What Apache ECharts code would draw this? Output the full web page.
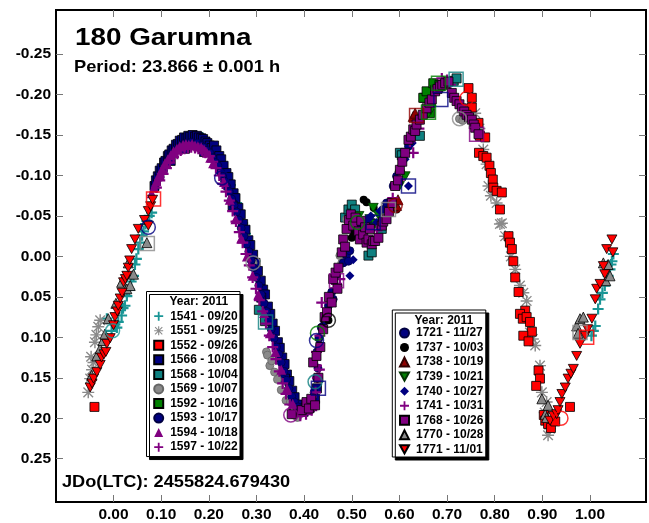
<!DOCTYPE html>
<html><head><meta charset="utf-8">
<script src="https://cdn.jsdelivr.net/npm/echarts@6/dist/echarts.min.js"></script>
<style>html,body{margin:0;padding:0;background:#fff}#c{width:649px;height:523px}</style>
</head><body><div id="c"></div>
<script>
// ---------- tick labels ----------
const xTicks = [0.0, 0.1, 0.2, 0.3, 0.4, 0.5, 0.6, 0.7, 0.8, 0.9, 1.0];
const yTicks = [-0.25, -0.20, -0.15, -0.10, -0.05, 0.00, 0.05, 0.10, 0.15, 0.20, 0.25];

// ---------- session data: [phase, magnitude] ----------
const s1541 = [[-0.014,0.077],[-0.004,0.092],[0.003,0.084],[0.007,0.088],[0.010,0.081],[0.017,0.073],[0.020,0.064],[0.024,0.061],[0.028,0.049],[0.033,0.041],[0.037,0.031],[0.042,0.024],[0.045,0.010],[0.048,0.003],[0.052,-0.009],[0.056,-0.017],[0.060,-0.026],[0.063,-0.031],[0.067,-0.040],[0.070,-0.044],[0.075,-0.050],[0.080,-0.054],
  [0.186,-0.147],[0.193,-0.143],[0.199,-0.139],[0.205,-0.134],[0.212,-0.128],[0.219,-0.121],[0.226,-0.113],[0.232,-0.105],[0.238,-0.096],[0.245,-0.088],[0.251,-0.077],[0.258,-0.066],[0.264,-0.053],[0.271,-0.041],[0.277,-0.028],[0.284,-0.017],[0.291,-0.006],[0.297,0.006],
  [1.049,-0.003],[1.046,0.006],[1.044,0.010],[1.042,0.016],[1.038,0.024],[1.031,0.036],[1.026,0.045],[1.021,0.053],[1.017,0.065],[1.011,0.086],[1.007,0.092],[1.003,0.098]];
const s1551 = [[-0.028,0.079],[-0.032,0.087],[-0.036,0.097],[-0.039,0.106],[-0.047,0.124],[-0.042,0.131],[-0.045,0.140],[-0.049,0.151],[-0.053,0.168],
  [0.759,-0.177],[0.768,-0.158],[0.776,-0.132],[0.783,-0.114],[0.787,-0.087],[0.792,-0.075],[0.804,-0.066],[0.811,-0.040],[0.815,-0.041],[0.822,-0.025],[0.834,0.000],[0.843,0.016],[0.853,0.036],[0.860,0.045],[0.867,0.055],[0.874,0.094],[0.880,0.102],[0.885,0.110],[0.895,0.135],[0.899,0.168],[0.905,0.193],[0.909,0.180],[0.916,0.213],[0.912,0.221]];
const s1552 = [[-0.040,0.186],
  [0.745,-0.208],[0.752,-0.196],[0.752,-0.184],[0.766,-0.165],[0.769,-0.149],[0.780,-0.147],[0.767,-0.128],[0.776,-0.124],[0.783,-0.122],[0.789,-0.112],[0.792,-0.103],[0.796,-0.095],[0.797,-0.085],[0.804,-0.081],[0.815,-0.079],[0.811,-0.058],[0.829,-0.025],[0.832,-0.017],[0.836,-0.009],[0.839,0.006],[0.843,0.026],[0.850,0.044],[0.864,0.067],[0.853,0.071],[0.859,0.077],[0.867,0.075],[0.874,0.081],[0.878,0.093],[0.860,0.098],[0.871,0.105],[0.892,0.141],[0.895,0.151],[0.887,0.160],[0.903,0.196],[0.906,0.203],[0.912,0.207],[0.918,0.212],[0.927,0.204],[0.958,0.186]];
const s1566 = [[0.086,-0.087],[0.089,-0.094],[0.093,-0.099],[0.097,-0.106],[0.101,-0.109],[0.106,-0.116],[0.109,-0.118],[0.114,-0.124],[0.117,-0.126],[0.122,-0.131],[0.126,-0.133],[0.131,-0.138],[0.135,-0.139],[0.139,-0.143],[0.144,-0.144],[0.148,-0.147],[0.153,-0.146],[0.157,-0.149],[0.161,-0.148],[0.166,-0.150],[0.171,-0.148],[0.175,-0.149],[0.179,-0.147],[0.184,-0.146],[0.188,-0.145],[0.193,-0.142],[0.197,-0.140],[0.202,-0.137],[0.206,-0.134],
  [0.211,-0.137],[0.216,-0.131],[0.222,-0.124],[0.226,-0.120],[0.231,-0.112],[0.237,-0.103],[0.241,-0.098],[0.246,-0.089],[0.252,-0.078],[0.256,-0.072],[0.262,-0.060],[0.267,-0.052],[0.272,-0.040],[0.277,-0.033],[0.283,-0.020],[0.287,-0.014],[0.293,-0.002],[0.298,0.008],[0.303,0.018],[0.309,0.030],[0.314,0.041],[0.318,0.047],[0.324,0.062],[0.329,0.071],[0.334,0.083],[0.339,0.092],[0.345,0.106],[0.349,0.113],[0.354,0.125],[0.359,0.133],[0.364,0.146],[0.369,0.154],[0.375,0.166],[0.380,0.174],[0.386,0.183],[0.393,0.188],[0.399,0.192],[0.406,0.189],[0.412,0.187],[0.418,0.183],[0.423,0.176],[0.427,0.163],
  [0.120,-0.118],[0.150,-0.133],[0.190,-0.129],[0.250,-0.063],[0.310,0.051],[0.360,0.151]];
const s1568 = [[0.318,0.080],[0.305,0.066],[0.486,-0.048],[0.493,-0.058],[0.500,-0.064],[0.507,-0.058],[0.535,-0.001],[0.542,-0.005],[0.563,-0.034],[0.601,-0.128],[0.605,-0.125],[0.643,-0.149],[0.652,-0.196],[0.714,-0.217],[0.720,-0.220]];
const s1569 = [[0.293,0.008],[0.321,0.118],[0.323,0.122],[0.328,0.135],[0.332,0.129],[0.338,0.143],[0.344,0.152],[0.352,0.165],[0.362,0.178],[0.371,0.180],[0.378,0.196],[0.386,0.199],[0.475,-0.001],[0.479,0.008],[0.489,-0.046],[0.493,-0.034],[0.508,-0.030],[0.726,-0.170],[0.733,-0.168]];
const s1592 = [[0.650,-0.196],[0.657,-0.204],[0.664,-0.177],[0.666,-0.190],[0.671,-0.214],[0.675,-0.206],[0.684,-0.212]];
const s1593 = [[0.098,-0.098],[0.105,-0.106],[0.112,-0.114],[0.118,-0.121],[0.124,-0.126],[0.131,-0.131],[0.137,-0.134],[0.144,-0.137],[0.150,-0.139],[0.157,-0.140],[0.163,-0.141],[0.170,-0.139],[0.176,-0.140],[0.183,-0.137],[0.189,-0.135],[0.196,-0.131],[0.202,-0.128],[0.208,-0.122],[0.214,-0.116],[0.219,-0.112],[0.225,-0.104],
  [0.229,-0.099],[0.233,-0.093],[0.238,-0.086],[0.243,-0.080],[0.248,-0.071],[0.253,-0.063],[0.258,-0.055],[0.263,-0.045],[0.268,-0.035],[0.274,-0.025],[0.279,-0.015],[0.284,-0.006],[0.289,0.005],[0.294,0.014],[0.300,0.026],[0.305,0.036],[0.310,0.047],[0.316,0.058],[0.321,0.068],[0.326,0.079],[0.331,0.090],[0.337,0.101],[0.342,0.112],[0.347,0.121],[0.352,0.131],[0.358,0.142],[0.363,0.153],[0.368,0.163],[0.374,0.173],[0.380,0.180],[0.387,0.186],[0.395,0.188],[0.402,0.186],[0.409,0.184],[0.415,0.176],[0.421,0.168],[0.426,0.150],[0.429,0.138],[0.427,0.118],[0.431,0.101],[0.436,0.088]];
const s1594 = [[0.080,-0.078],[0.085,-0.085],[0.090,-0.093],[0.096,-0.101],[0.102,-0.108],[0.108,-0.115],[0.114,-0.120],[0.120,-0.125],[0.126,-0.130],[0.133,-0.133],[0.139,-0.136],[0.146,-0.138],[0.152,-0.139],[0.158,-0.138],[0.165,-0.139],[0.171,-0.137],[0.177,-0.136],[0.184,-0.135],[0.190,-0.132],[0.196,-0.128],[0.203,-0.122],[0.209,-0.115],
  [0.232,-0.092],[0.244,-0.070],[0.256,-0.046],[0.268,-0.022],[0.280,0.000],[0.292,0.024],[0.304,0.047],[0.316,0.070],[0.328,0.095],[0.340,0.118],[0.352,0.140],[0.364,0.163],[0.376,0.182],[0.388,0.193]];
const s1597 = [[0.090,-0.085],[0.097,-0.094],[0.104,-0.102],[0.111,-0.109],[0.118,-0.116],[0.126,-0.123],[0.134,-0.127],[0.141,-0.131],[0.149,-0.133],[0.156,-0.134],[0.163,-0.135],[0.171,-0.134],[0.178,-0.133],[0.186,-0.131],[0.193,-0.128],[0.201,-0.124],[0.208,-0.117],[0.215,-0.109],[0.222,-0.100],[0.229,-0.090],[0.236,-0.080],[0.243,-0.069],[0.250,-0.056],[0.257,-0.043],[0.264,-0.030],[0.271,-0.017],[0.278,-0.003],[0.285,0.011],[0.292,0.026],[0.299,0.040],[0.306,0.054],[0.313,0.068],[0.320,0.083],[0.327,0.098],[0.334,0.112],[0.341,0.127],[0.348,0.142],[0.355,0.157],[0.362,0.170],[0.370,0.183],[0.380,0.192],[0.392,0.197],[0.404,0.195],[0.416,0.190],[0.424,0.168],[0.428,0.150],[0.432,0.140]];
const s1721 = [[0.433,0.110],[0.440,0.086],[0.451,0.061],[0.458,0.044],[0.461,0.053],[0.468,0.024],[0.482,0.008],[0.489,-0.001],[0.493,0.006],[0.496,-0.007],[0.507,-0.034],[0.517,-0.038],[0.531,-0.044],[0.545,-0.042],[0.566,-0.058],[0.573,-0.066],[0.587,-0.087],[0.594,-0.099],[0.608,-0.120],[0.619,-0.136]];
const s1737 = [[0.451,0.079],[0.500,-0.023],[0.505,-0.028],[0.525,-0.070],[0.531,-0.067],[0.546,-0.060],[0.594,-0.058]];
const s1738 = [[0.594,-0.063],[0.597,-0.070],[0.601,-0.111],[0.629,-0.173],[0.633,-0.177],[0.640,-0.170]];
const s1739 = [[0.515,-0.050],[0.538,-0.046],[0.545,-0.060],[0.549,-0.040],[0.556,-0.051],[0.600,-0.087],[0.612,-0.099],[0.661,-0.177],[0.666,-0.181],[0.689,-0.208]];
const s1740 = [[0.496,0.024],[0.503,0.004],[0.535,-0.046],[0.540,-0.050],[0.552,-0.042],[0.559,-0.056],[0.612,-0.120],[0.619,-0.087],[0.627,-0.140]];
const s1741 = [[0.426,0.135],[0.426,0.118],[0.433,0.098],[0.437,0.057],[0.468,0.034],[0.475,0.028],[0.553,-0.032],[0.586,-0.072],[0.600,-0.095],[0.622,-0.142],[0.629,-0.128],[0.641,-0.158],[0.660,-0.185],[0.689,-0.220],[0.692,-0.216],[0.700,-0.218],[0.707,-0.212]];
const s1768 = [[0.374,0.195],[0.395,0.190],[0.405,0.180],[0.410,0.188],[0.415,0.176],[0.423,0.184],[0.419,0.131],[0.426,0.123],[0.430,0.150],[0.434,0.112],[0.440,0.090],[0.443,0.075],[0.448,0.069],[0.452,0.050],[0.458,0.057],[0.461,0.028],[0.466,0.020],[0.470,0.040],[0.472,0.014],[0.479,-0.005],[0.482,-0.021],[0.486,-0.012],[0.489,-0.034],[0.494,-0.045],[0.498,-0.052],[0.503,-0.038],[0.508,-0.048],[0.514,-0.031],[0.517,-0.021],[0.520,-0.044],[0.524,-0.027],[0.528,-0.036],[0.531,-0.017],[0.535,-0.021],[0.538,-0.034],[0.542,-0.015],[0.545,-0.019],[0.549,-0.019],[0.556,-0.023],[0.563,-0.038],[0.566,-0.043],[0.573,-0.046],[0.578,-0.055],[0.584,-0.066],[0.591,-0.087],[0.597,-0.094],[0.601,-0.107],[0.606,-0.117],[0.612,-0.128],[0.619,-0.144],[0.624,-0.148],[0.629,-0.157],[0.633,-0.155],[0.636,-0.163],[0.643,-0.169],[0.649,-0.175],[0.657,-0.183],[0.663,-0.190],[0.668,-0.194],[0.675,-0.204],[0.680,-0.207],[0.685,-0.210],[0.690,-0.212],[0.696,-0.214],[0.703,-0.216],[0.710,-0.202],[0.715,-0.196],[0.720,-0.192],[0.726,-0.188],[0.731,-0.183],[0.736,-0.179],[0.741,-0.175],[0.746,-0.172],[0.752,-0.169],[0.756,-0.163],[0.759,-0.159],[0.766,-0.151]];
const s1770 = [[-0.046,0.147],[-0.035,0.123],[-0.028,0.114],[-0.022,0.104],[-0.018,0.096],[-0.011,0.077],[0.005,0.058],[0.017,0.032],[0.028,0.040],[0.031,0.008],[0.035,0.036],[0.042,0.022],[0.070,-0.017],
  [0.899,0.176],[0.906,0.195],[0.909,0.199],[0.912,0.184],[0.972,0.086],[0.975,0.095],[0.979,0.077],[0.986,0.075],[1.028,0.008],[1.033,0.030],[1.038,0.010],[1.042,0.024]];
const s1771 = [[-0.049,0.162],[-0.045,0.157],[-0.042,0.151],[-0.035,0.143],[-0.028,0.134],[-0.025,0.125],[-0.020,0.121],[-0.016,0.118],[-0.014,0.108],[-0.007,0.101],[0.000,0.085],[0.003,0.075],[0.008,0.068],[0.010,0.061],[0.014,0.052],[0.018,0.045],[0.021,0.032],[0.025,0.028],[0.028,0.024],[0.031,0.014],[0.034,0.005],[0.038,-0.009],[0.045,-0.021],[0.052,-0.034],[0.065,-0.045],[0.073,-0.038],[0.073,-0.056],[0.078,-0.062],[0.082,-0.070],
  [0.916,0.203],[0.923,0.197],[0.930,0.195],[0.933,0.190],[0.937,0.180],[0.941,0.170],[0.948,0.162],[0.954,0.151],[0.960,0.145],[0.965,0.139],[0.972,0.123],[0.979,0.108],[0.990,0.098],[0.995,0.090],[1.004,0.077],[1.011,0.053],[1.014,0.040],[1.021,0.034],[1.028,0.012],[1.031,0.022],[1.035,-0.009],[1.048,-0.005],[1.046,-0.021]];

// first-point markers: [phase, magnitude, session]
const hollowCircles = [[-0.002,0.092,'1541'],[0.073,-0.036,'1593'],[0.227,-0.097,'1593'],[0.293,0.008,'1569'],[0.372,0.196,'1594'],[0.423,0.155,'1568'],[0.428,0.095,'1592'],[0.426,0.104,'1721'],[0.451,0.079,'1737'],[0.512,-0.042,'1592'],[0.591,-0.063,'1738'],[0.741,-0.195,'1552'],[0.726,-0.170,'1569'],[0.939,0.200,'1552']];
const hollowSquares = [[0.084,-0.071,'1552'],[0.071,-0.016,'1569'],[0.319,0.081,'1568'],[0.430,0.163,'1721'],[0.468,0.030,'1768'],[0.545,-0.042,'1721'],[0.577,-0.058,'1569'],[0.619,-0.087,'1721'],[0.762,-0.151,'1768'],[0.719,-0.219,'1568'],[0.682,-0.214,'1592'],[0.687,-0.194,'1721'],[0.636,-0.174,'1738'],[0.661,-0.178,'1592'],[0.979,0.094,'1569'],[0.993,0.100,'1552']];

// ---------- styling ----------
const FONT = '"Liberation Sans", Arial, Helvetica, sans-serif';
const PLUS = 'path://M4,0h2v4h4v2h-4v4h-2v-4h-4v-2h4z';
const STAR = 'path://M0,4.4h10v1.2h-10zM4.4,0h1.2v10h-1.2zM0.6,1.4L1.4,0.6L9.4,8.6L8.6,9.4ZM8.6,0.6L9.4,1.4L1.4,9.4L0.6,8.6Z';
const TRIDOWN = 'path://M0,0L10,0L5,9Z';
const colors = {'1541':'#1a9696','1551':'#8a8a8a','1552':'#ff0000','1566':'#000080','1568':'#0f8080','1569':'#8a8a8a','1592':'#008000','1593':'#000080','1594':'#800080','1597':'#800080','1721':'#000080','1737':'#000000','1738':'#900000','1739':'#008000','1740':'#000080','1741':'#800080','1768':'#800080','1770':'#8a8a8a','1771':'#ff0000'};

const defs = [
  ['1541','1541 - 09/20', s1541, PLUS, 11, null],
  ['1551','1551 - 09/25', s1551, STAR, 12, null],
  ['1552','1552 - 09/26', s1552, 'rect', 9, '#000'],
  ['1566','1566 - 10/08', s1566, 'rect', 9, '#000'],
  ['1568','1568 - 10/04', s1568, 'rect', 9, '#000'],
  ['1569','1569 - 10/07', s1569, 'circle', 8, '#666'],
  ['1592','1592 - 10/16', s1592, 'rect', 9, '#000'],
  ['1593','1593 - 10/17', s1593, 'circle', 8, '#000040'],
  ['1594','1594 - 10/18', s1594, 'triangle', 10, null],
  ['1597','1597 - 10/22', s1597, PLUS, 11, null],
  ['1721','1721 - 11/27', s1721, 'circle', 8, '#000040'],
  ['1737','1737 - 10/03', s1737, 'circle', 8, null],
  ['1738','1738 - 10/19', s1738, 'triangle', 10, '#300'],
  ['1739','1739 - 10/21', s1739, TRIDOWN, 10, '#030'],
  ['1740','1740 - 10/27', s1740, 'diamond', 9, null],
  ['1741','1741 - 10/31', s1741, PLUS, 11, null],
  ['1768','1768 - 10/26', s1768, 'rect', 9, '#000'],
  ['1770','1770 - 10/28', s1770, 'triangle', 10, '#000'],
  ['1771','1771 - 11/01', s1771, TRIDOWN, 10, '#000']
];

const series = defs.map(([id, name, data, sym, size, border]) => ({
  type: 'scatter', name, data, symbol: sym, symbolSize: size, symbolKeepAspect: true,
  itemStyle: { color: colors[id], borderColor: border || colors[id], borderWidth: border ? 0.8 : 0, opacity: 1 },
  emphasis: { disabled: true }, silent: true
}));
series.push({
  type: 'scatter', name: 'hc', symbol: 'circle', symbolSize: 14, silent: true,
  data: hollowCircles.map(d => ({ value: [d[0], d[1]], itemStyle: { borderColor: colors[d[2]] } })),
  itemStyle: { color: 'rgba(0,0,0,0)', borderWidth: 1.5 }, emphasis: { disabled: true }
});
series.push({
  type: 'scatter', name: 'hs', symbol: 'rect', symbolSize: 14, silent: true,
  data: hollowSquares.map(d => ({ value: [d[0], d[1]], itemStyle: { borderColor: colors[d[2]] } })),
  itemStyle: { color: 'rgba(0,0,0,0)', borderWidth: 1.5 }, emphasis: { disabled: true }
});

const legendBase = {
  orient: 'vertical', itemWidth: 9, itemHeight: 9, itemGap: 2.55, selectedMode: false,
  backgroundColor: '#fff', borderColor: '#000', borderWidth: 1,
  shadowColor: '#000', shadowBlur: 0, shadowOffsetX: 3, shadowOffsetY: 3,
  textStyle: { fontFamily: FONT, fontWeight: 'bold', fontSize: 12, color: '#000', padding: [0, 0, 0, 2] }
};

const tickStyle = { show: true, inside: true, length: 7, lineStyle: { color: '#777', width: 1 } };
const labelFont = { fontFamily: FONT, fontWeight: 'bold', fontSize: 15.5, color: '#000' };
const noLine = { show: false, onZero: false };
const XMIN = -0.1207, XMAX = 1.1175, YMIN = -0.3045, YMAX = 0.3035;

const option = {
  animation: false,
  backgroundColor: '#fff',
  grid: { left: 56, top: 10, width: 590, height: 493, show: true, borderColor: '#000', borderWidth: 2, backgroundColor: 'transparent' },
  xAxis: [
    { type: 'value', position: 'bottom', min: XMIN, max: XMAX, splitLine: { show: false }, axisLine: noLine,
      axisTick: Object.assign({ customValues: xTicks }, tickStyle),
      axisLabel: Object.assign({ customValues: xTicks, margin: 5, formatter: v => v.toFixed(2) }, labelFont) },
    { type: 'value', position: 'top', min: XMIN, max: XMAX, splitLine: { show: false }, axisLine: noLine,
      axisTick: Object.assign({ customValues: xTicks }, tickStyle), axisLabel: { show: false } }
  ],
  yAxis: [
    { type: 'value', position: 'left', inverse: true, min: YMIN, max: YMAX, splitLine: { show: false }, axisLine: noLine,
      axisTick: Object.assign({ customValues: yTicks }, tickStyle),
      axisLabel: Object.assign({ customValues: yTicks, margin: 5, formatter: v => v.toFixed(2) }, labelFont) },
    { type: 'value', position: 'right', inverse: true, min: YMIN, max: YMAX, splitLine: { show: false }, axisLine: noLine,
      axisTick: Object.assign({ customValues: yTicks }, tickStyle), axisLabel: { show: false } }
  ],
  legend: [
    Object.assign({ left: 146.5, top: 291.5, padding: [18.7, 2.4, 3.4, 6.7], data: defs.slice(0, 10).map(d => d[1]) }, legendBase),
    Object.assign({ left: 392.3, top: 310, padding: [17, 2.4, 1.6, 6.7], data: defs.slice(10).map(d => d[1]) }, legendBase)
  ],
  graphic: [
    { type: 'text', x: 75, y: 38, scaleX: 1.16, z: 100, style: { text: '180 Garumna', font: 'bold 24px ' + FONT, fill: '#000', align: 'left', verticalAlign: 'middle' } },
    { type: 'text', x: 74, y: 67.2, scaleX: 1.075, z: 100, style: { text: 'Period: 23.866 ± 0.001 h', font: 'bold 17px ' + FONT, fill: '#000', align: 'left', verticalAlign: 'middle' } },
    { type: 'text', x: 62, y: 482.2, scaleX: 1.07, z: 100, style: { text: 'JDo(LTC): 2455824.679430', font: 'bold 17px ' + FONT, fill: '#000', align: 'left', verticalAlign: 'middle' } },
    { type: 'text', x: 169.5, y: 301.5, z: 100, style: { text: 'Year: 2011', font: 'bold 12px ' + FONT, fill: '#000', align: 'left', verticalAlign: 'middle' } },
    { type: 'text', x: 414.5, y: 320.5, z: 100, style: { text: 'Year: 2011', font: 'bold 12px ' + FONT, fill: '#000', align: 'left', verticalAlign: 'middle' } }
  ],
  series
};

const chart = echarts.init(document.getElementById('c'), null, { renderer: 'canvas' });
chart.setOption(option);
</script>
</body></html>
